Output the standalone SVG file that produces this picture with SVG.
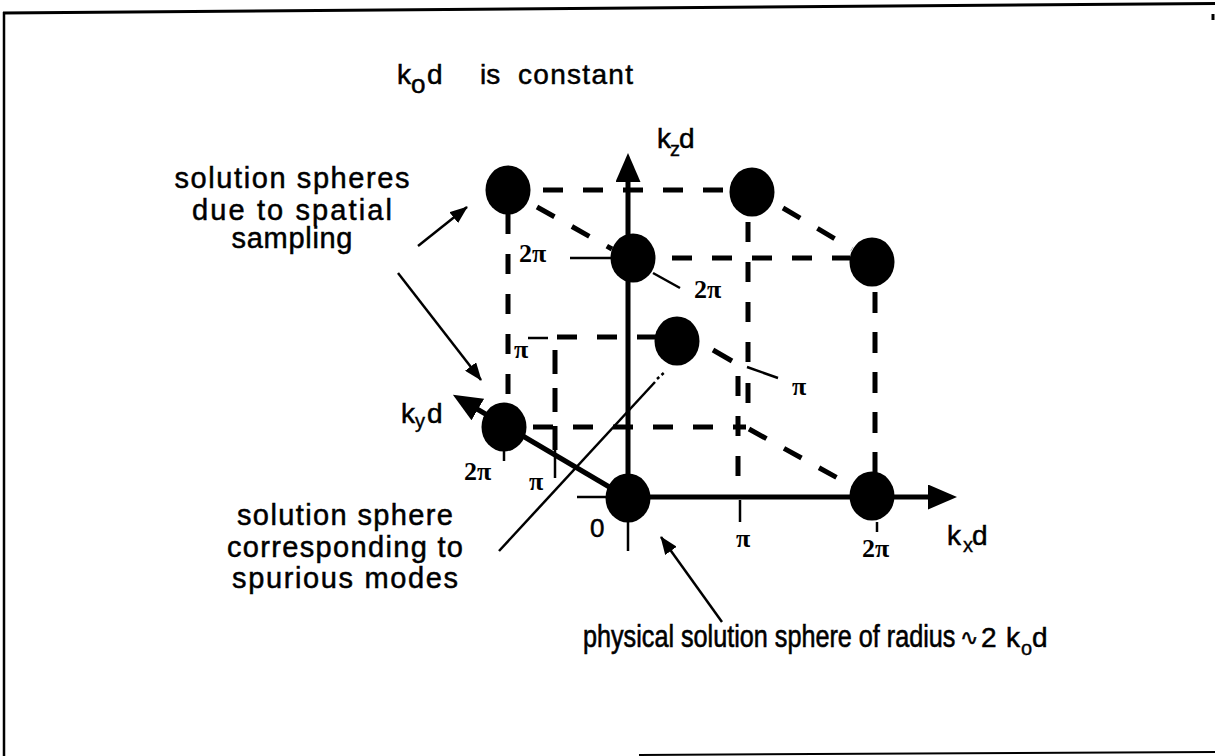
<svg xmlns="http://www.w3.org/2000/svg" width="1215" height="756" viewBox="0 0 1215 756">
<style>
.t{font-family:"Liberation Sans",Arial,sans-serif;font-size:28px;fill:#000;stroke:#000;stroke-width:0.5}
.L{font-size:29px}
.B{font-size:25.2px}
.sub{font-size:20px;stroke-width:0.4}
.p{font-family:"Liberation Serif","Times New Roman",serif;font-size:26px;font-weight:bold;fill:#000}
.d{fill:none;stroke:#000;stroke-width:5;stroke-dasharray:20 20}
.thin{fill:none;stroke:#000;stroke-width:2.5}
.ax{fill:none;stroke:#000;stroke-width:5}
.fr{fill:none;stroke:#000;stroke-width:3}
.sp{fill:#000}
</style>
<defs>
<marker id="ah" markerUnits="userSpaceOnUse" markerWidth="18" markerHeight="14" refX="17" refY="7" orient="auto"><path d="M0,0 L18,7 L0,14 z" fill="#000"/></marker>
<marker id="axh" markerUnits="userSpaceOnUse" markerWidth="30" markerHeight="26" refX="1" refY="12.5" orient="auto"><path d="M0,0 L29,12.5 L0,25 z" fill="#000"/></marker>
</defs>
<rect width="1215" height="756" fill="#fff"/>
<g id="frame">
<line class="fr" x1="3" y1="13" x2="1215" y2="3.5"/>
<line class="fr" x1="4" y1="12" x2="4" y2="756" style="stroke-width:2.5"/>
<line class="fr" x1="1213" y1="14" x2="1213" y2="20"/>
<line class="fr" x1="639" y1="755" x2="1215" y2="752" style="stroke-width:2"/>
</g>
<g id="connectors">
<line class="d" x1="543" y1="190" x2="730" y2="190"/>
<line class="d" x1="537" y1="207" x2="612" y2="249"/>
<line class="d" x1="783" y1="208" x2="852" y2="249"/>
<line class="d" x1="672" y1="258" x2="850" y2="258"/>
<line class="ax" x1="508" y1="212" x2="508" y2="234"/>
<line class="d" x1="508" y1="254" x2="508" y2="400"/>
<line class="d" x1="748" y1="222" x2="748" y2="365"/>
<line class="ax" x1="748" y1="383" x2="748" y2="403"/>
<line class="d" x1="738" y1="376" x2="738" y2="478"/>
<line class="d" x1="875" y1="292" x2="875" y2="474" style="stroke-dasharray:21 19"/>
<line class="d" x1="533" y1="427" x2="746" y2="427"/>
<line class="d" x1="749" y1="429" x2="852" y2="486"/>
<line class="d" x1="557" y1="337" x2="657" y2="337"/>
<line class="d" x1="555" y1="350" x2="555" y2="450" style="stroke-dasharray:24 14"/>
<line class="ax" x1="713" y1="350" x2="732" y2="361"/>
<line class="thin" x1="570" y1="258" x2="611" y2="258"/>
<line class="thin" x1="653" y1="273" x2="680" y2="288"/>
<line class="thin" x1="528" y1="338" x2="548" y2="338"/>
<line class="thin" x1="747" y1="367" x2="778" y2="378"/>
<line class="thin" x1="504" y1="450" x2="504" y2="461"/>
<line class="thin" x1="555" y1="450" x2="555" y2="478"/>
<line class="thin" x1="577" y1="497" x2="606" y2="497"/>
<line class="thin" x1="628" y1="522" x2="628" y2="551"/>
<line class="thin" x1="740" y1="500" x2="740" y2="522"/>
<line class="thin" x1="877" y1="522" x2="877" y2="532"/>
<line class="ax" x1="628" y1="498" x2="628" y2="181" marker-end="url(#axh)"/>
<line class="ax" x1="628" y1="497" x2="929" y2="497" marker-end="url(#axh)"/>
<line class="ax" x1="628" y1="498" x2="477" y2="409" marker-end="url(#axh)"/>
<line class="thin" x1="418" y1="246" x2="467" y2="207" marker-end="url(#ah)"/>
<line class="thin" x1="398" y1="273" x2="481" y2="380" marker-end="url(#ah)"/>
<line class="thin" x1="499" y1="551" x2="655" y2="382"/>
<line class="thin" x1="657" y1="379" x2="666" y2="371" style="stroke-dasharray:3 3"/>
<line class="thin" x1="722" y1="622" x2="661" y2="537" marker-end="url(#ah)"/>
</g>
<g id="sphere-0-2pi-2pi"><ellipse class="sp" cx="508" cy="190" rx="22.5" ry="24.5"/></g>
<g id="sphere-2pi-2pi-2pi"><ellipse class="sp" cx="752" cy="192" rx="22.5" ry="24.5"/></g>
<g id="sphere-0-0-2pi"><ellipse class="sp" cx="633" cy="258" rx="22.5" ry="24.5"/></g>
<g id="sphere-2pi-0-2pi"><ellipse class="sp" cx="872" cy="262" rx="22.5" ry="24.5"/></g>
<g id="sphere-spurious"><ellipse class="sp" cx="677" cy="341" rx="22.5" ry="24.5"/></g>
<g id="sphere-0-2pi-0"><ellipse class="sp" cx="504" cy="427" rx="22.5" ry="24.5"/></g>
<g id="sphere-origin"><ellipse class="sp" cx="628" cy="498" rx="22.5" ry="24.5"/></g>
<g id="sphere-2pi-0-0"><ellipse class="sp" cx="872" cy="496" rx="22.5" ry="24.5"/></g>
<g id="labels">
<text class="t" y="84"><tspan x="397">k</tspan><tspan x="411" y="93" style="font-size:26px">o</tspan><tspan x="427" y="84">d</tspan><tspan x="480">is</tspan></text>
<text class="t" x="518" y="84" textLength="115" lengthAdjust="spacing">constant</text>
<text class="t L" x="292" y="188" text-anchor="middle" textLength="235" lengthAdjust="spacing">solution spheres</text>
<text class="t L" x="292" y="220" text-anchor="middle" textLength="200" lengthAdjust="spacing">due to spatial</text>
<text class="t L" x="292" y="248" text-anchor="middle" textLength="121" lengthAdjust="spacing">sampling</text>
<text class="t L" x="345" y="525" text-anchor="middle" textLength="216" lengthAdjust="spacing">solution sphere</text>
<text class="t L" x="345" y="557" text-anchor="middle" textLength="236" lengthAdjust="spacing">corresponding to</text>
<text class="t L" x="345" y="588" text-anchor="middle" textLength="226" lengthAdjust="spacing">spurious modes</text>
<text class="t B" x="0" y="0" transform="translate(583,647) scale(1,1.22)">physical solution sphere of radius</text>
<text class="t" y="647"><tspan x="960" y="645" style="font-family:'DejaVu Sans',sans-serif;font-size:22px">∿</tspan><tspan x="981" y="647">2</tspan><tspan x="1006">k</tspan><tspan x="1021" y="655" class="sub">o</tspan><tspan x="1032" y="647">d</tspan></text>
<text class="t" y="148"><tspan x="657">k</tspan><tspan x="670" y="156" class="sub">z</tspan><tspan x="679" y="148">d</tspan></text>
<text class="t" y="423"><tspan x="401">k</tspan><tspan x="415" y="428" class="sub">y</tspan><tspan x="427" y="423">d</tspan></text>
<text class="t" y="545"><tspan x="947">k</tspan><tspan x="963" y="552" class="sub">x</tspan><tspan x="972" y="545">d</tspan></text>
<text class="t" x="590" y="537" style="font-size:26px">0</text>
<text class="p" x="519" y="262">2π</text>
<text class="p" x="694" y="298">2π</text>
<text class="p" x="514" y="358">π</text>
<text class="p" x="792" y="395">π</text>
<text class="p" x="464" y="480">2π</text>
<text class="p" x="529" y="490">π</text>
<text class="p" x="736" y="547">π</text>
<text class="p" x="862" y="557">2π</text>
</g>
</svg>
